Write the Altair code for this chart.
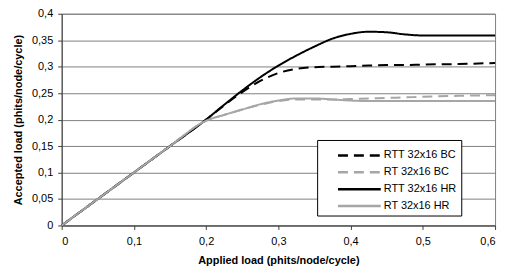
import altair as alt
import pandas as pd

applied = [0, 0.05, 0.1, 0.15, 0.2, 0.225, 0.25, 0.275, 0.3, 0.325, 0.35, 0.375,
           0.4, 0.425, 0.45, 0.475, 0.5, 0.55, 0.6]
rtt_bc = [0, 0.05, 0.1, 0.15, 0.2, 0.227, 0.252, 0.273, 0.288, 0.296, 0.299, 0.300,
          0.301, 0.302, 0.303, 0.303, 0.304, 0.305, 0.307]
rt_bc = [0, 0.05, 0.1, 0.15, 0.198, 0.209, 0.219, 0.228, 0.235, 0.238, 0.238, 0.238,
         0.239, 0.240, 0.241, 0.242, 0.243, 0.245, 0.246]
rtt_hr = [0, 0.05, 0.1, 0.15, 0.2, 0.228, 0.255, 0.280, 0.302, 0.321, 0.338, 0.353,
          0.362, 0.366, 0.365, 0.361, 0.359, 0.359, 0.359]
rt_hr = [0, 0.05, 0.1, 0.15, 0.198, 0.209, 0.219, 0.229, 0.236, 0.240, 0.240, 0.238,
         0.236, 0.235, 0.235, 0.235, 0.235, 0.235, 0.235]

series_names = ["RTT 32x16 BC", "RT 32x16 BC", "RTT 32x16 HR", "RT 32x16 HR"]
series_vals = [rtt_bc, rt_bc, rtt_hr, rt_hr]

rows = []
for name, vals in zip(series_names, series_vals):
    for i, (a, v) in enumerate(zip(applied, vals)):
        rows.append({"series": name, "applied": a, "accepted": v, "order": i})
df = pd.DataFrame(rows)

colors = ["#000000", "#a6a6a6", "#000000", "#a6a6a6"]
dashes = [[10, 6], [10, 6], [1, 0], [1, 0]]

lbl = "replace(format(datum.value, '.2~f'), '.', ',')"

chart = alt.Chart(df).mark_line(strokeWidth=2, interpolate="monotone").encode(
    x=alt.X("applied:Q", scale=alt.Scale(domain=[0, 0.6], nice=False),
            axis=alt.Axis(title="Applied load (phits/node/cycle)", values=[0, 0.1, 0.2, 0.3, 0.4, 0.5, 0.6],
                          labelExpr=lbl, grid=False, tickSize=4, labelPadding=6,
                          titlePadding=8)),
    y=alt.Y("accepted:Q", scale=alt.Scale(domain=[0, 0.4], nice=False),
            axis=alt.Axis(title="Accepted load (phits/node/cycle)",
                          values=[0, 0.05, 0.1, 0.15, 0.2, 0.25, 0.3, 0.35, 0.4],
                          labelExpr=lbl, grid=True, tickSize=4, labelPadding=5,
                          titlePadding=8)),
    color=alt.Color("series:N", scale=alt.Scale(domain=series_names, range=colors),
                    legend=alt.Legend(title=None, orient="none", legendX=257, legendY=127,
                                      symbolType="M-2.15,0H2.15", symbolSize=400,
                                      symbolStrokeWidth=2.5, symbolOffset=27,
                                      fillColor="white", strokeColor="#000000", padding=4,
                                      labelFontSize=11, labelOffset=13, rowPadding=-6,
                                      labelFont="Liberation Sans", labelColor="#000000")),
    strokeDash=alt.StrokeDash("series:N", scale=alt.Scale(domain=series_names, range=dashes),
                              legend=alt.Legend(title=None)),
    order="order:Q",
).properties(
    width=436, height=213,
    autosize=alt.AutoSizeParams(type="none"),
    padding={"left": 54, "top": 5, "right": 10, "bottom": 40},
).configure_view(
    stroke="#808080", strokeWidth=1
).configure_axis(
    labelFont="Liberation Sans", titleFont="Liberation Sans",
    labelFontSize=11, titleFontSize=11, titleFontWeight="bold",
    labelColor="#000000", titleColor="#000000",
    domainColor="#404040", tickColor="#404040", gridColor="#808080", gridOpacity=1,
)

chart.save("out.html", embed_options={"renderer": "svg", "actions": False})
